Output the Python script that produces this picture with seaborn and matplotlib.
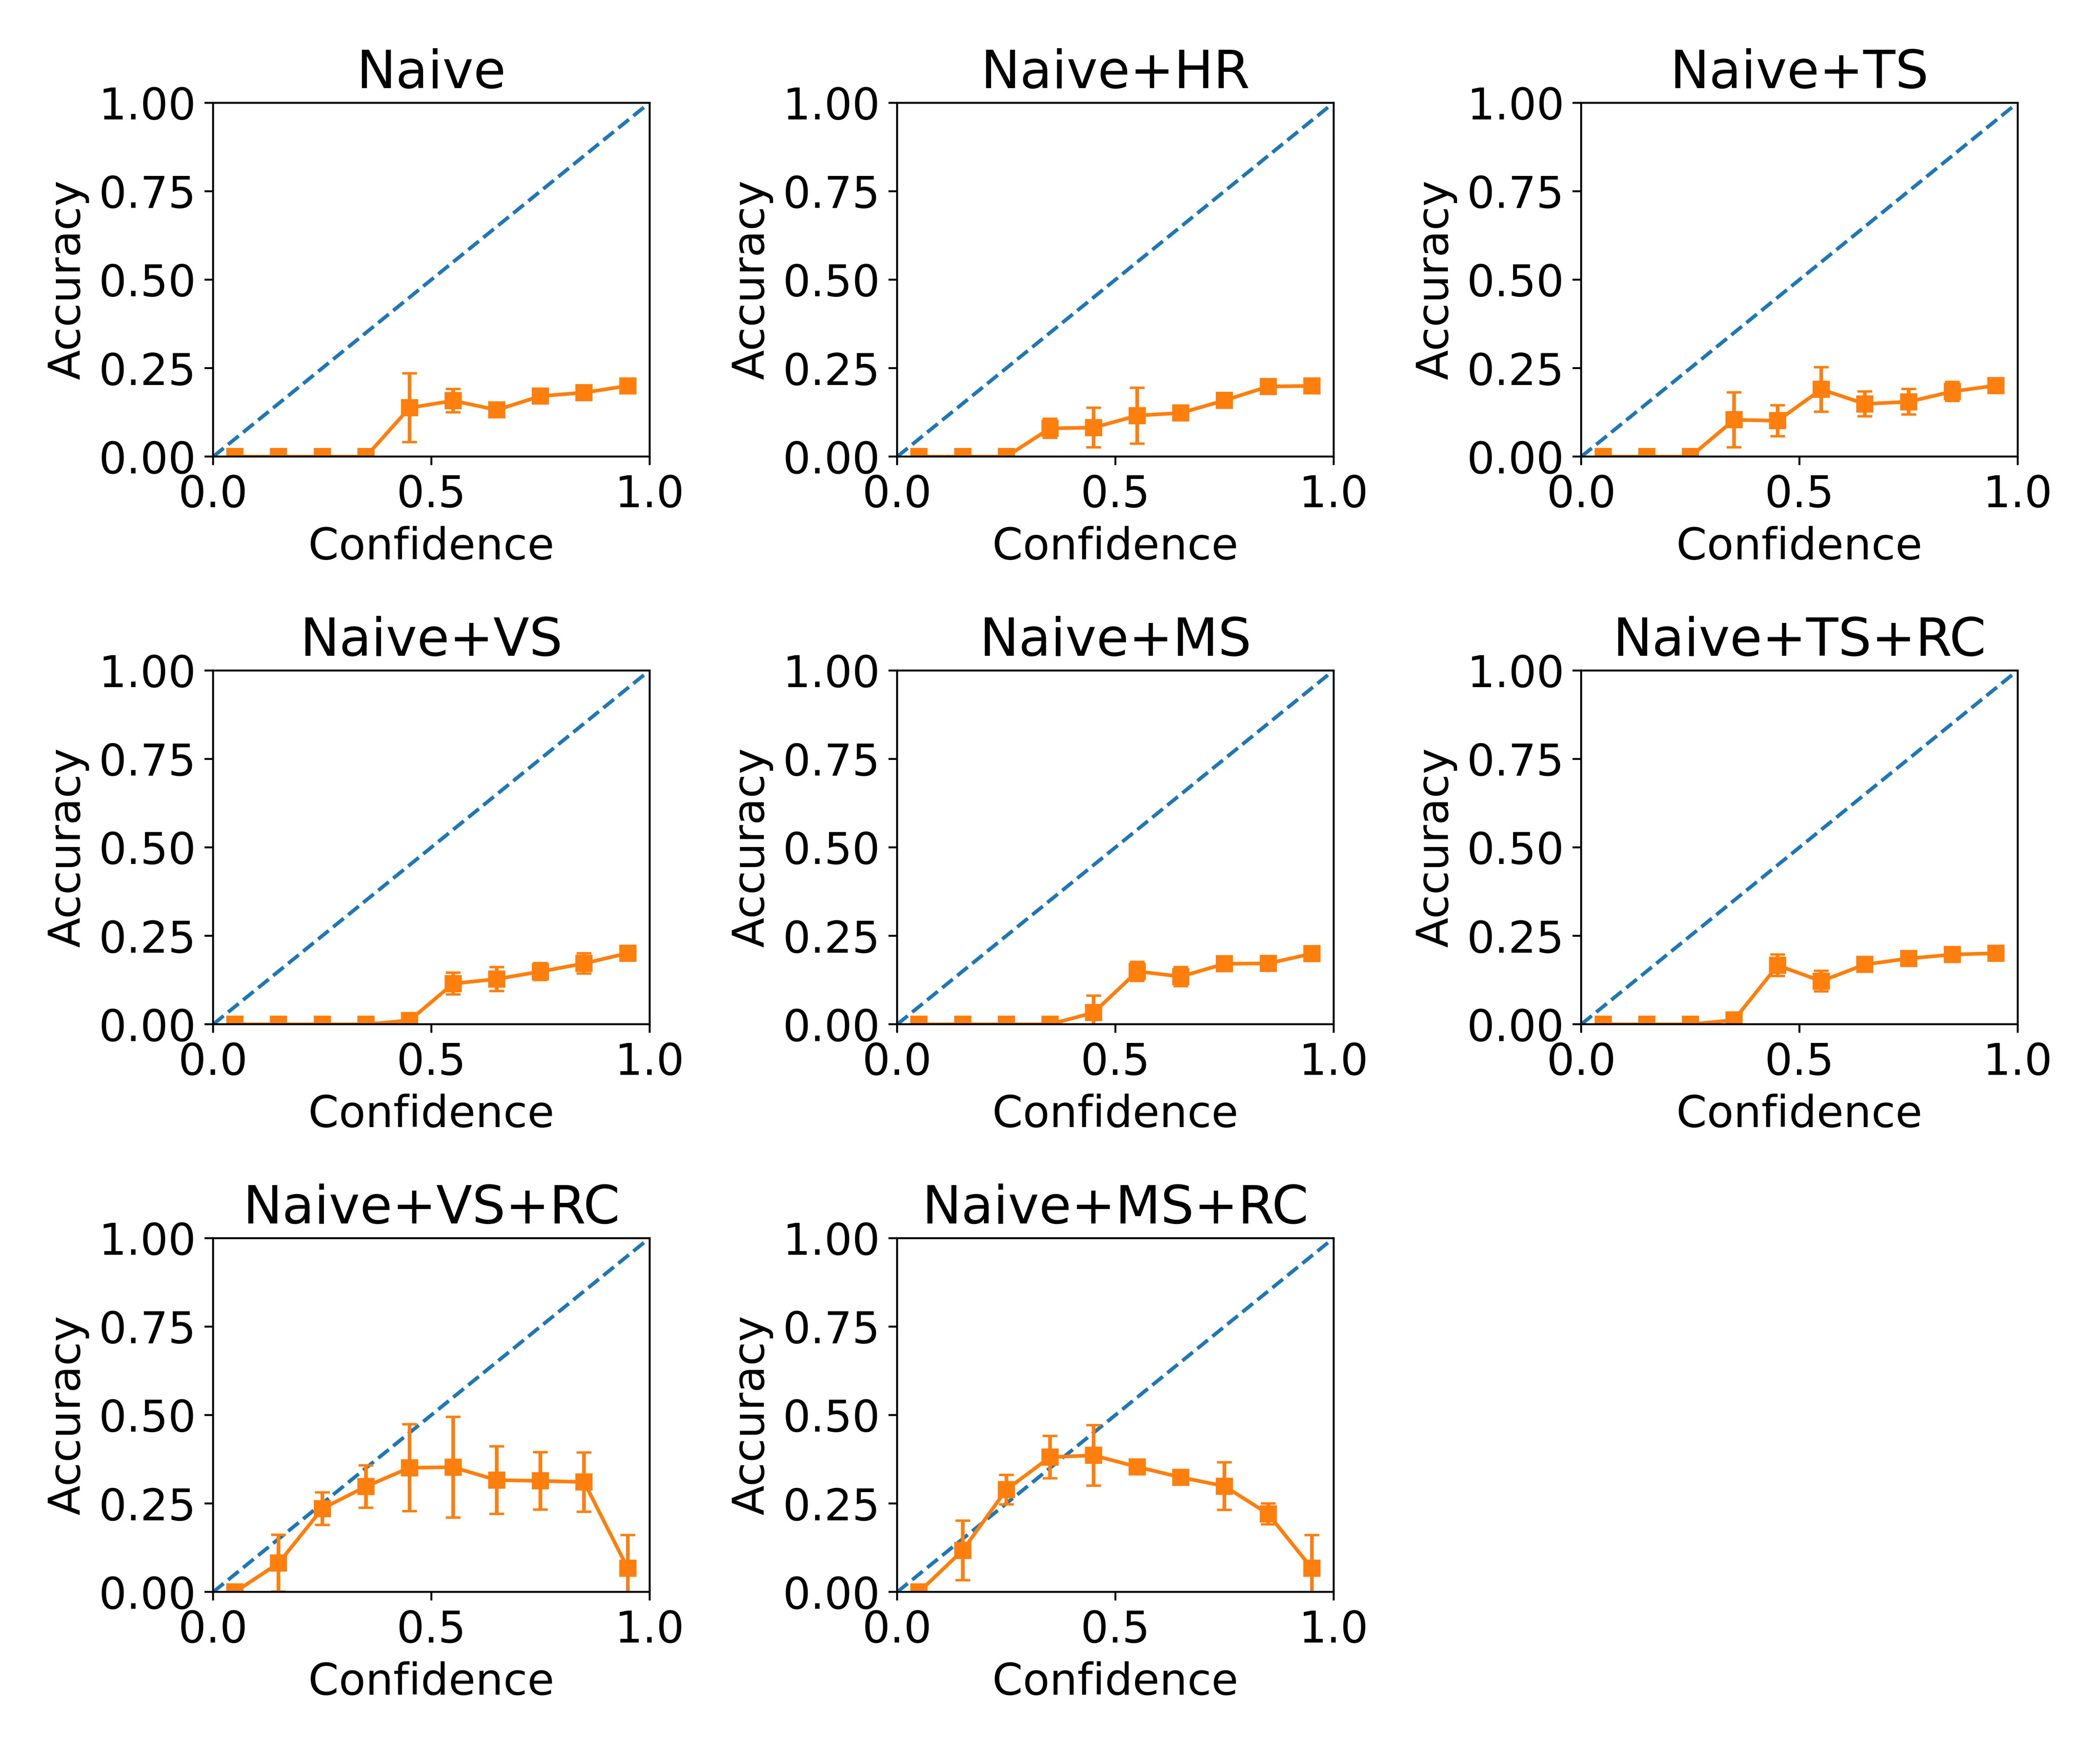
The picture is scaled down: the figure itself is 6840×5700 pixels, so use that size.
import matplotlib
matplotlib.use("Agg")
import matplotlib.pyplot as plt
import seaborn as sns
import numpy as np

plt.rcParams['font.family'] = ['DejaVu Sans']
plt.rcParams['font.size'] = 18

bin_centers = [0.05, 0.15, 0.25, 0.35, 0.45, 0.55, 0.65, 0.75, 0.85, 0.95]

titles = ["Naive", "Naive+HR", "Naive+TS", "Naive+VS", "Naive+MS",
          "Naive+TS+RC", "Naive+VS+RC", "Naive+MS+RC"]

acc_naive = [0, 0, 0, 0, 0.138, 0.158, 0.132, 0.171, 0.181, 0.200]
err_naive = [0, 0, 0, 0, 0.097, 0.033, 0.010, 0.010, 0.010, 0.0]

acc_hr = [0, 0, 0, 0.080, 0.082, 0.116, 0.1235, 0.159, 0.198, 0.200]
err_hr = [0, 0, 0, 0.027, 0.056, 0.079, 0.010, 0.010, 0.010, 0.0]

acc_ts = [0, 0, 0, 0.104, 0.1015, 0.190, 0.149, 0.155, 0.184, 0.201]
err_ts = [0, 0, 0, 0.078, 0.044, 0.063, 0.035, 0.036, 0.027, 0.0]

acc_vs = [0, 0, 0, 0, 0.011, 0.115, 0.128, 0.149, 0.172, 0.201]
err_vs = [0, 0, 0, 0, 0.005, 0.031, 0.034, 0.024, 0.029, 0.0]

acc_ms = [0, 0, 0, 0, 0.033, 0.1495, 0.135, 0.171, 0.172, 0.1996]
err_ms = [0, 0, 0, 0, 0.048, 0.027, 0.027, 0.010, 0.010, 0.0]

acc_ts_rc = [0, 0, 0, 0.012, 0.1666, 0.122, 0.169, 0.186, 0.197, 0.201]
err_ts_rc = [0, 0, 0, 0.005, 0.0305, 0.029, 0.010, 0.010, 0.010, 0.0]

acc_vs_rc = [0, 0.0815, 0.2355, 0.298, 0.351, 0.3525, 0.316, 0.314, 0.3106, 0.067]
err_vs_rc = [0, 0.080, 0.046, 0.060, 0.123, 0.142, 0.0955, 0.0813, 0.0835, 0.094]

acc_ms_rc = [0, 0.1175, 0.289, 0.381, 0.386, 0.3535, 0.324, 0.299, 0.2205, 0.067]
err_ms_rc = [0, 0.084, 0.0415, 0.060, 0.0855, 0.005, 0.005, 0.067, 0.0295, 0.094]

accs = [acc_naive, acc_hr, acc_ts, acc_vs, acc_ms, acc_ts_rc, acc_vs_rc, acc_ms_rc]
errs = [err_naive, err_hr, err_ts, err_vs, err_ms, err_ts_rc, err_vs_rc, err_ms_rc]

diag = [0.0, 1.0]
x_ticks = [0.0, 0.5, 1.0]
x_ticklabels = ["0.0", "0.5", "1.0"]
y_ticks = [0.0, 0.25, 0.5, 0.75, 1.0]
y_ticklabels = ["0.00", "0.25", "0.50", "0.75", "1.00"]

C0 = "#1f77b4"
C1 = "#ff7f0e"

DPI = 570

fig, axes = plt.subplots(3, 3, figsize=(12, 10), dpi=DPI)
fig.subplots_adjust(left=0.1015, right=0.9608, bottom=0.0903, top=0.9413,
                    wspace=0.5675, hspace=0.604)

for i, ax in enumerate(axes.flat):
    if i >= len(titles):
        ax.axis("off")
        continue
    sns.lineplot(x=diag, y=diag, ax=ax, color=C0, linestyle="--",
                 linewidth=1.5, legend=False)
    sns.lineplot(x=bin_centers, y=accs[i], ax=ax, color=C1, marker="s",
                 markersize=6, markeredgecolor=C1, markeredgewidth=1.0,
                 linewidth=1.5, legend=False, errorbar=None)
    ax.errorbar(bin_centers, accs[i], yerr=errs[i], fmt="none", ecolor=C1,
                elinewidth=1.5, capsize=3, capthick=1.0)
    ax.set_xlim(0, 1)
    ax.set_ylim(0, 1)
    ax.set_xticks(x_ticks)
    ax.set_xticklabels(x_ticklabels)
    ax.set_yticks(y_ticks)
    ax.set_yticklabels(y_ticklabels)
    ax.set_xlabel("Confidence")
    ax.set_ylabel("Accuracy")
    ax.set_title(titles[i])

fig.savefig("out.png", dpi=DPI)
